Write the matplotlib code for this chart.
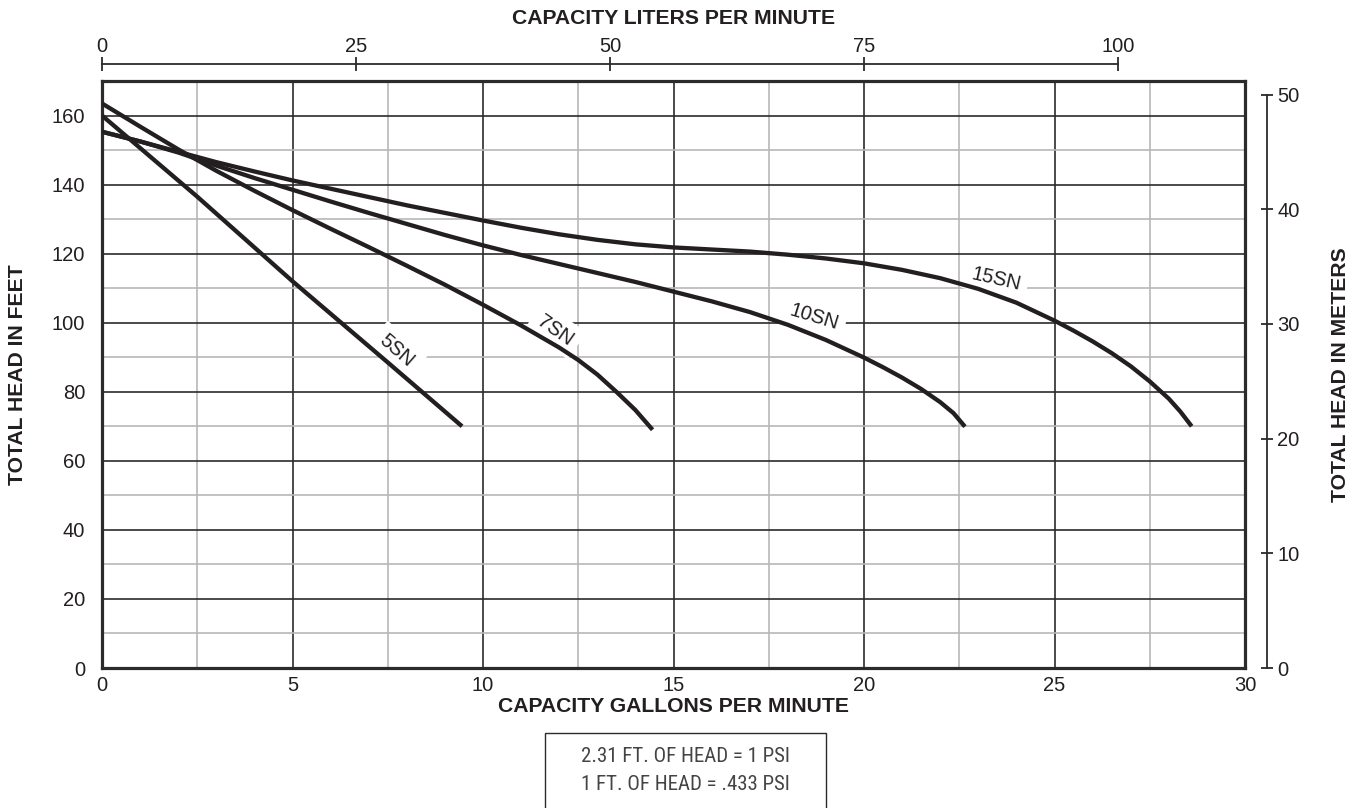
import matplotlib
matplotlib.use("Agg")
import matplotlib.pyplot as plt
from matplotlib import font_manager
from matplotlib.patches import Rectangle

# ---------------- data ----------------
gpm_5sn = [0, 2.5, 5, 7.5, 9.45]
head_5sn = [160, 136.5, 112, 88.5, 70]

gpm_7sn = [0, 1, 2, 3, 4, 5, 6, 7, 8, 9, 10, 11, 12, 12.5, 13, 13.5, 14, 14.45]
head_7sn = [163.5, 156.8, 150.2, 144, 138.2, 132.6, 127.2, 121.9, 116.5, 111,
            105.2, 99.2, 92.8, 89.2, 85, 80, 74.7, 69]

gpm_10sn = [0, 1, 2, 3, 4, 5, 6, 7, 8, 9, 10, 11, 12, 13, 14, 15, 16, 17, 18,
            19, 20, 20.5, 21, 21.5, 22, 22.35, 22.65]
head_10sn = [155.3, 152.5, 149.3, 145.5, 141.9, 138.5, 135.1, 131.8, 128.6, 125.4,
             122.4, 119.6, 117, 114.4, 111.8, 109, 106.2, 103.1, 99.4, 95,
             89.9, 87.1, 84.1, 80.8, 77, 73.8, 69.9]

gpm_15sn = [0, 1, 2, 3, 4, 5, 6, 7, 8, 9, 10, 11, 12, 13, 14, 15, 16, 17, 18,
            19, 20, 21, 22, 23, 24, 25, 25.5, 26, 26.5, 27, 27.5, 28, 28.3, 28.6]
head_15sn = [155.3, 152.5, 149.5, 146.5, 143.8, 141.2, 138.8, 136.4, 134, 131.8,
             129.6, 127.5, 125.6, 124, 122.7, 121.8, 121.2, 120.6, 119.7, 118.6,
             117.2, 115.3, 112.9, 109.8, 105.8, 100.6, 97.7, 94.6, 91.2, 87.4, 83,
             78, 74.3, 70]

series_names = ["5SN", "7SN", "10SN", "15SN"]
label_pos = [(7.74, 91.9), (11.9, 97.7), (18.69, 101.7), (23.47, 112.7)]
label_rot = [-41, -35, -17, -13]

gpm_ticks = [0, 5, 10, 15, 20, 25, 30]
feet_ticks = [0, 20, 40, 60, 80, 100, 120, 140, 160]
lpm_ticks = [0, 25, 50, 75, 100]
meter_ticks = [0, 10, 20, 30, 40, 50]

note_lines = ["2.31 FT. OF HEAD = 1 PSI", "1 FT. OF HEAD = .433 PSI"]

# ---------------- style ----------------
W, H = 1358, 808
DPI = 100
plt.rcParams['font.family'] = ['Liberation Sans', 'DejaVu Sans']
TXT = '#231f20'
DARK = '#2b2b2b'
LIGHT = '#b8b8b8'

available = {f.name for f in font_manager.fontManager.ttflist}
note_font = 'Liberation Sans'
note_size = 13.5
for cand in ['Liberation Sans Narrow', 'DejaVu Sans Condensed', 'Roboto Condensed']:
    if cand in available:
        note_font = cand
        note_size = 15
        break

fig = plt.figure(figsize=(W / DPI, H / DPI), dpi=DPI)
L, R, T, B = 102, 1245, 81, 668
ax = fig.add_axes([L / W, 1 - B / H, (R - L) / W, (B - T) / H])

ax.set_xlim(0, 30)
ax.set_ylim(0, 170)
ax.set_xticks(gpm_ticks)
ax.set_xticks([2.5, 7.5, 12.5, 17.5, 22.5, 27.5], minor=True)
ax.set_yticks(feet_ticks)
ax.set_yticks([10, 30, 50, 70, 90, 110, 130, 150], minor=True)
ax.grid(which='minor', color=LIGHT, lw=1.2, zorder=1)
ax.grid(which='major', color=DARK, lw=1.2, zorder=1.5)
ax.set_axisbelow(True)
ax.tick_params(which='both', length=0, labelsize=14.5, colors=TXT)
ax.tick_params(axis='x', pad=6)
ax.tick_params(axis='y', pad=12)
for s in ax.spines.values():
    s.set_linewidth(2.3)
    s.set_color(DARK)

curves = [(gpm_5sn, head_5sn), (gpm_7sn, head_7sn), (gpm_10sn, head_10sn),
          (gpm_15sn, head_15sn)]
for (x, y) in curves:
    ax.plot(x, y, color=TXT, lw=3.1, solid_capstyle='butt',
            solid_joinstyle='round', zorder=5)

for name, (lx, ly), rot in zip(series_names, label_pos, label_rot):
    ax.text(lx, ly, name, rotation=rot, rotation_mode='anchor', ha='center',
            va='center', fontsize=14.5, color=TXT, zorder=4,
            bbox=dict(boxstyle='square,pad=0.35', fc='white', ec='none'))

# right axis (meters)
ft_per_m_px = ((668 - 95) / 50) / ((668 - 116) / 160)
axr = ax.twinx()
axr.set_ylim(0, 170 / ft_per_m_px)
for k in ['left', 'top', 'bottom']:
    axr.spines[k].set_visible(False)
axr.spines['right'].set_position(('outward', 21.7 * 72 / DPI))
axr.spines['right'].set_bounds(0, 50)
axr.spines['right'].set_linewidth(1.3)
axr.spines['right'].set_color(DARK)
axr.set_yticks(meter_ticks)
axr.tick_params(axis='y', direction='inout', length=9, width=1.3, pad=3,
                labelsize=14.5, colors=TXT, color=DARK)

# top axis (liters per minute)
axt = ax.twiny()
axt.set_xlim(0, 112.5)
for k in ['left', 'right', 'bottom']:
    axt.spines[k].set_visible(False)
axt.spines['top'].set_position(('outward', 16.7 * 72 / DPI))
axt.spines['top'].set_bounds(0, 100)
axt.spines['top'].set_linewidth(1.3)
axt.spines['top'].set_color(DARK)
axt.set_xticks(lpm_ticks)
axt.tick_params(axis='x', direction='inout', length=9.5, width=1.3, pad=1,
                labelsize=14.5, colors=TXT, color=DARK)

cx = (L + R) / 2 / W
cy = 1 - (T + B) / 2 / H
fig.text(cx, 1 - 18 / H, "CAPACITY LITERS PER MINUTE", ha='center', va='center',
         fontsize=15.2, fontweight='bold', color=TXT)
fig.text(cx, 1 - 706 / H, "CAPACITY GALLONS PER MINUTE", ha='center', va='center',
         fontsize=15.2, fontweight='bold', color=TXT)
fig.text(18 / W, cy, "TOTAL HEAD IN FEET", ha='center', va='center', rotation=90,
         fontsize=15.2, fontweight='bold', color=TXT)
fig.text(1340 / W, cy, "TOTAL HEAD IN METERS", ha='center', va='center',
         rotation=90, fontsize=15.2, fontweight='bold', color=TXT)

# note box
bx0, bx1, by0 = 545, 826, 733
fig.patches.append(Rectangle((bx0 / W, -0.01), (bx1 - bx0) / W, 0.01 + 1 - by0 / H,
                             transform=fig.transFigure, fill=False, ec=DARK,
                             lw=1.0))
for i, line in enumerate(note_lines):
    fig.text((bx0 + bx1) / 2 / W, 1 - (757 + 28 * i) / H, line, ha='center',
             va='center', fontsize=note_size, color='#444444', family=note_font)

fig.savefig("out.png", dpi=DPI)
